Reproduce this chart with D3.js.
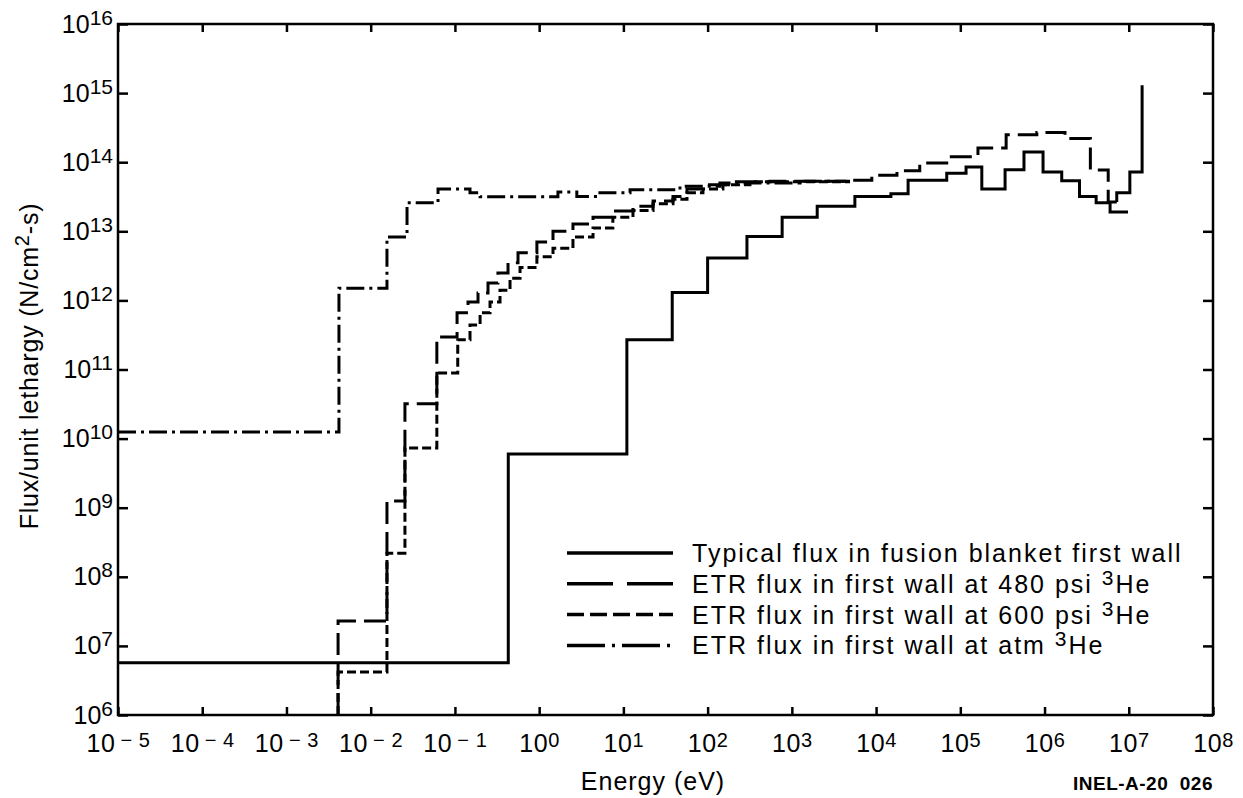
<!DOCTYPE html>
<html>
<head>
<meta charset="utf-8">
<script src="https://cdn.jsdelivr.net/npm/d3@7"></script>
<style>
  body { margin: 0; background: #fff; }
  text { font-family: "Liberation Sans", Arial, Helvetica, sans-serif; fill: #000; }
</style>
</head>
<body>
<div class="chart"></div>
<script>
// Energy bin edges (eV) and flux per unit lethargy for each spectrum
var typicalEdges = [1e-5, 0.43, 11, 38, 100, 293, 767, 2.0e3, 5.6e3, 1.5e4, 2.4e4, 6.9e4, 1.17e5, 1.8e5,
  3.4e5, 5.7e5, 9.6e5, 1.6e6, 2.6e6, 4.1e6, 6.0e6, 9.8e6];
var typicalFlux = [5.7e6, 6.0e9, 2.7e11, 1.3e12, 4.1e12, 8.4e12, 1.6e13, 2.3e13, 3.2e13, 3.5e13, 5.5e13,
  6.9e13, 8.5e13, 4.1e13, 7.8e13, 1.4e14, 7.2e13, 5.4e13, 3.2e13, 2.6e13, 1.9e13];

var etr480Edges = [4.1e-3, 1.56e-2, 2.55e-2, 6.1e-2, 0.106, 0.143, 0.188, 0.247, 0.324, 0.427, 0.561, 0.94,
  1.46, 2.52, 4.36, 7.5, 13.0, 22.5, 38.8, 56.9, 88, 200, 551, 4.9e3, 8.9e3, 1.77e4, 3.3e4, 7.5e4, 1.62e5,
  3.5e5, 8.1e5, 1.75e6, 3.5e6, 5.7e6, 7.2e6];
var etr480Flux = [2.3e7, 1.25e9, 3.2e10, 2.95e11, 6.6e11, 9.5e11, 1.28e12, 1.78e12, 2.5e12, 3.5e12, 4.9e12,
  7.0e12, 1.0e13, 1.28e13, 1.6e13, 1.97e13, 2.3e13, 2.75e13, 3.2e13, 4.1e13, 4.7e13, 5.2e13, 5.3e13, 5.5e13,
  6.5e13, 7.5e13, 9.7e13, 1.2e14, 1.6e14, 2.5e14, 2.7e14, 2.2e14, 7.7e13, 2.65e13];

var etr600Edges = [4.1e-3, 1.56e-2, 2.55e-2, 6.1e-2, 0.108, 0.151, 0.199, 0.261, 0.343, 0.451, 0.593, 0.94,
  1.46, 2.52, 4.36, 7.5, 13.0, 22.5, 38.8, 56.9, 88, 152, 318, 4.9e3];
var etr600Flux = [4.2e6, 2.2e8, 7.3e9, 8.9e10, 2.7e11, 4.4e11, 6.6e11, 9.5e11, 1.4e12, 2.1e12, 3.0e12, 4.3e12,
  5.7e12, 8.3e12, 1.12e13, 1.6e13, 2.0e13, 2.5e13, 2.9e13, 3.6e13, 4.1e13, 4.7e13, 5.2e13];

var atmEdges = [1e-5, 4.2e-3, 1.56e-2, 2.7e-2, 6.3e-2, 0.151, 0.199, 1.67, 2.8, 4.9, 12, 47, 140, 1.25e3, 4.9e3];
var atmFlux = [1.25e10, 1.5e12, 8.3e12, 2.6e13, 4.1e13, 3.6e13, 3.15e13, 3.7e13, 3.2e13, 3.6e13, 4.0e13,
  4.5e13, 5.0e13, 5.3e13];

// 14 MeV source peak at the top end
var peakEdges = [7.2e6, 1.03e7, 1.44e7];
var peakFlux = [3.6e13, 7.2e13];
var peakTop = 1.3e15;

var xTicks = [-5, -4, -3, -2, -1, 0, 1, 2, 3, 4, 5, 6, 7, 8];
var yTicks = [6, 7, 8, 9, 10, 11, 12, 13, 14, 15, 16];

var legendLabels = [
  ["Typical flux in fusion blanket first wall", ""],
  ["ETR flux in first wall at 480 psi ", "3", "He"],
  ["ETR flux in first wall at 600 psi ", "3", "He"],
  ["ETR flux in first wall at atm ", "3", "He"]
];

// SVG area
var svgWidth = 1243;
var svgHeight = 798;
var margin = { top: 24, right: 30, bottom: 83, left: 118 };
var width = svgWidth - margin.left - margin.right;
var height = svgHeight - margin.top - margin.bottom;

var svg = d3.select(".chart").append("svg")
  .attr("width", svgWidth)
  .attr("height", svgHeight)
  .style("background", "#fff");

var chart = svg.append("g")
  .attr("transform", `translate(${margin.left}, ${margin.top})`);

var x = d3.scaleLog().domain([1e-5, 1e8]).range([0, width]);
var y = d3.scaleLog().domain([1e6, 1e16]).range([height, 0]);

// axes with inward ticks on all four sides
var gBottom = chart.append("g").attr("transform", `translate(0, ${height})`)
  .call(d3.axisBottom(x).tickValues(xTicks.map(p => Math.pow(10, p))).tickSize(-8));
var gTop = chart.append("g")
  .call(d3.axisTop(x).tickValues(xTicks.map(p => Math.pow(10, p))).tickSize(-8).tickFormat(""));
var gLeft = chart.append("g")
  .call(d3.axisLeft(y).tickValues(yTicks.map(p => Math.pow(10, p))).tickSize(-10));
var gRight = chart.append("g").attr("transform", `translate(${width}, 0)`)
  .call(d3.axisRight(y).tickValues(yTicks.map(p => Math.pow(10, p))).tickSize(-10).tickFormat(""));

[gBottom, gTop, gLeft, gRight].forEach(function(g) {
  g.select(".domain").remove();
  g.selectAll(".tick line").attr("stroke", "#000").attr("stroke-width", 2.5);
});

gBottom.selectAll(".tick text")
  .text(null)
  .attr("y", 37)
  .attr("dy", null)
  .attr("font-size", 25)
  .attr("letter-spacing", 0.6)
  .each(function(d) {
    var p = Math.round(Math.log10(d));
    var t = d3.select(this);
    t.append("tspan").text("10");
    t.append("tspan").attr("dy", -5).attr("dx", p < 0 ? 5 : 0).attr("font-size", 20)
      .text(p < 0 ? "\u2212 " + (-p) : p);
  });

gLeft.selectAll(".tick text")
  .text(null)
  .attr("x", -5)
  .attr("dy", null)
  .attr("y", 8)
  .attr("font-size", 25)
  .each(function(d) {
    var p = Math.round(Math.log10(d));
    var t = d3.select(this);
    t.append("tspan").text("10");
    t.append("tspan").attr("dy", -8).attr("font-size", 21).text(p);
  });

// frame
chart.append("rect")
  .attr("x", 0).attr("y", 0)
  .attr("width", width).attr("height", height)
  .attr("fill", "none").attr("stroke", "#000").attr("stroke-width", 2.5);

// step lines
function stepPoints(edges, flux, startFlux, endFlux) {
  var pts = [];
  if (startFlux != null) pts.push([edges[0], startFlux]);
  flux.forEach(function(v, i) {
    pts.push([edges[i], v]);
    pts.push([edges[i + 1], v]);
  });
  if (endFlux != null) pts.push([edges[edges.length - 1], endFlux]);
  return pts;
}

var line = d3.line()
  .x(d => x(d[0]))
  .y(d => y(Math.max(d[1], 1e6)));

var plotArea = chart.append("g");

var series = [
  { pts: stepPoints(atmEdges, atmFlux), dash: "18,5,3,5", legendDash: "38,7,3,7" },
  { pts: stepPoints(etr600Edges, etr600Flux, 1e6), dash: "9,4", legendDash: "17,6" },
  { pts: stepPoints(etr480Edges, etr480Flux, 1e6), dash: "22,8", legendDash: "46,14" },
  { pts: stepPoints(typicalEdges, typicalFlux), dash: null, legendDash: null },
  { pts: stepPoints(peakEdges, peakFlux, etr480Flux[etr480Flux.length - 1], peakTop), dash: null }
];

plotArea.selectAll(".flux")
  .data(series)
  .enter()
  .append("path")
  .attr("class", "flux")
  .attr("d", d => line(d.pts))
  .attr("fill", "none")
  .attr("stroke", "#000")
  .attr("stroke-width", 3)
  .attr("stroke-dasharray", d => d.dash);

// legend
var legendStyles = [series[3], series[2], series[1], series[0]];
var legend = chart.append("g").attr("transform", "translate(449, 529)");
legendLabels.forEach(function(lab, i) {
  var row = legend.append("g").attr("transform", `translate(0, ${i * 30.8})`);
  row.append("line")
    .attr("x1", 0).attr("x2", 106).attr("y1", 0).attr("y2", 0)
    .attr("stroke", "#000").attr("stroke-width", 3.5)
    .attr("stroke-dasharray", legendStyles[i].legendDash);
  var t = row.append("text")
    .attr("x", 125).attr("y", 9)
    .attr("font-size", 25)
    .attr("letter-spacing", 2.0);
  t.append("tspan").text(lab[0]);
  if (lab[1]) {
    t.append("tspan").attr("dy", -8).attr("font-size", 21).text(lab[1]);
    t.append("tspan").attr("dy", 8).text(lab[2]);
  }
});

// axis titles
var yTitle = svg.append("text")
  .attr("transform", "translate(38, 366) rotate(-90)")
  .attr("text-anchor", "middle")
  .attr("font-size", 25)
  .attr("letter-spacing", 0.8);
yTitle.append("tspan").text("Flux/unit lethargy (N/cm");
yTitle.append("tspan").attr("dy", -9).attr("font-size", 20).text("2");
yTitle.append("tspan").attr("dy", 9).text("-s)");

svg.append("text")
  .attr("x", 653).attr("y", 790)
  .attr("text-anchor", "middle")
  .attr("font-size", 25)
  .attr("letter-spacing", 1)
  .text("Energy (eV)");

svg.append("text")
  .attr("x", 1213).attr("y", 790)
  .attr("text-anchor", "end")
  .attr("font-size", 19)
  .attr("font-weight", "bold")
  .attr("letter-spacing", 0.5)
  .text("INEL-A-20\u00a0\u00a0026");
</script>
</body>
</html>
